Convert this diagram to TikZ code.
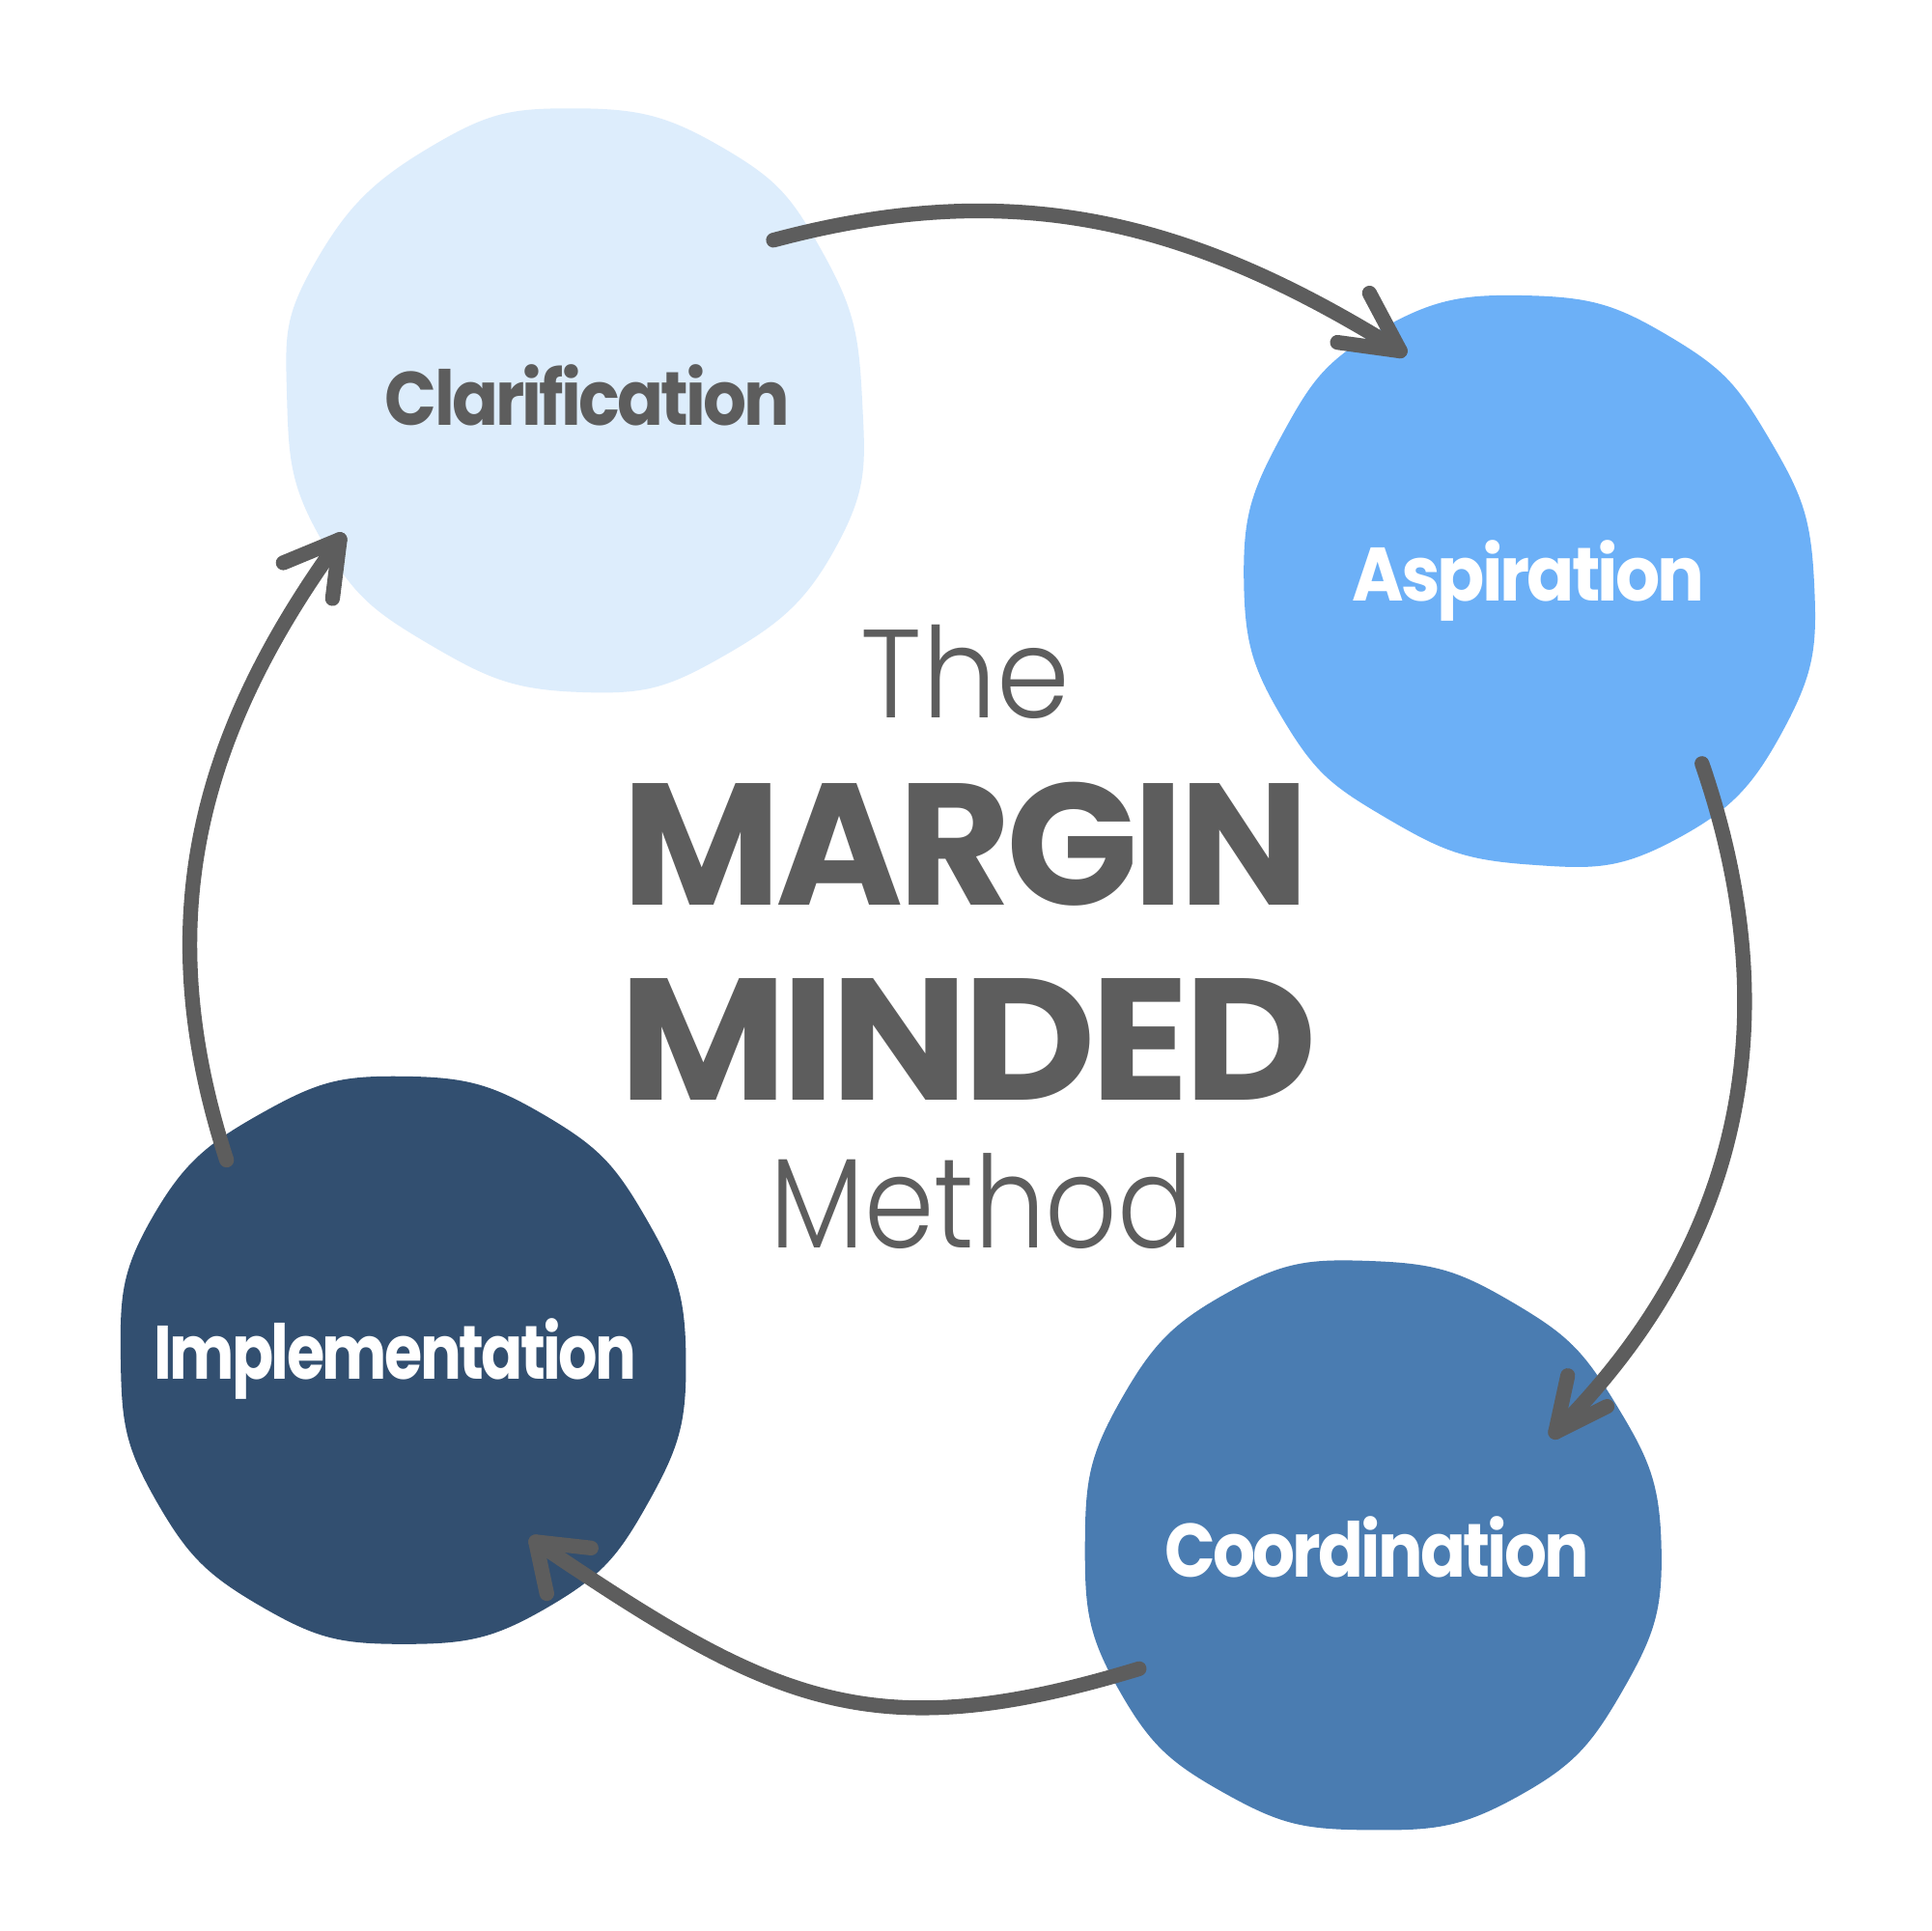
\documentclass[tikz,border=0pt]{standalone}
\usepackage{fontspec}
\setmainfont{Poppins}
\newfontfamily\poplight{Poppins Light}
\definecolor{clar}{HTML}{DDEDFC}
\definecolor{asp}{HTML}{6CB0F7}
\definecolor{coord}{HTML}{4A7CB1}
\definecolor{impl}{HTML}{324F70}
\definecolor{ink}{HTML}{5D5D5D}
\tikzset{
  lbl/.style={font=\bfseries\fontsize{17.5}{20}\selectfont\addfontfeatures{LetterSpace=-4}, inner sep=0pt, anchor=base},
  title/.style={inner sep=0pt, anchor=base, text=ink},
  arrowline/.style={draw=ink, line width=0.12cm, line cap=round, line join=round},
  blobshape/.style={smooth cycle, tension=0.8},
}
\begin{document}
\begin{tikzpicture}[x=0.01cm,y=-0.01cm]
\fill[white] (0,0) rectangle (1568,1568);
\useasboundingbox (0,0) rectangle (1568,1568);

% blobs
\fill[clar] plot[blobshape] coordinates {
 (700,323) (680,442) (587,533) (470,562) (350,524) (262,440) (233,323) (256,213)
 (350,119) (467,88) (587,120) (668,205)};
\fill[asp] plot[blobshape] coordinates {
 (1473,471) (1449,591) (1360,682) (1241,702) (1127,665) (1043,586) (1010,471) (1040,355)
 (1120,268) (1241,240) (1357,274) (1437,357)};
\fill[coord] plot[blobshape] coordinates {
 (1349,1255) (1318,1372) (1232,1459) (1112,1486) (996,1457) (909,1373) (881,1255)
 (910,1137) (998,1049) (1115,1024) (1229,1058) (1312,1140)};
\fill[impl] plot[blobshape] coordinates {
 (557,1104) (527,1219) (445,1305) (328,1335) (213,1305) (127,1219) (98,1104) (124,988)
 (214,903) (328,874) (443,906) (525,990)};

% labels
\node[lbl, text=ink] (clarification) at (477,345) {\scalebox{0.9}[1]{Clarification}};
\node[lbl, text=white] (aspiration) at (1241,488) {\scalebox{0.925}[1]{Aspiration}};
\node[lbl, text=white] (coordination) at (1118,1281) {\scalebox{0.88}[1]{Coordination}};
\node[lbl, text=white] (implementation) at (321,1120) {\scalebox{0.81}[1]{Implementation}};

% title
\node[title, font=\poplight\fontsize{29}{30}\selectfont] (the) at (784,583) {\scalebox{0.936}[1]{The}};
\node[title, font=\bfseries\fontsize{40}{40}\selectfont\addfontfeatures{LetterSpace=-3}] (margin) at (784,735) {MARGIN};
\node[title, font=\bfseries\fontsize{40}{40}\selectfont\addfontfeatures{LetterSpace=-3}] (minded) at (786,893) {\scalebox{1.057}[1]{MINDED}};
\node[title, font=\poplight\fontsize{29.5}{30}\selectfont] (method) at (797,1013) {\scalebox{0.88}[1]{Method}};

% arrow coordinates
\coordinate (a1s) at (628,195);
\coordinate (a1t) at (1137,285);
\coordinate (a1p) at (1112,238);
\coordinate (a1q) at (1086,278);
\coordinate (a2s) at (1382,620);
\coordinate (a2t) at (1263,1163);
\coordinate (a2p) at (1273,1117);
\coordinate (a2q) at (1305,1142);
\coordinate (a3s) at (925,1355);
\coordinate (a3t) at (435,1252);
\coordinate (a3p) at (480,1257);
\coordinate (a3q) at (444,1294);
\coordinate (a4s) at (184,942);
\coordinate (a4t) at (276,438);
\coordinate (a4p) at (230,457);
\coordinate (a4q) at (270,486);

\draw[arrowline] (a1s) to[out=15, in=148] (a1t);
\draw[arrowline] (a1p) -- (a1t) -- (a1q);
\draw[arrowline] (a2s) to[out=-71, in=45] (a2t);
\draw[arrowline] (a2p) -- (a2t) -- (a2q);
\draw[arrowline] (a3s) .. controls (705,1422) and (626,1381) .. (a3t);
\draw[arrowline] (a3p) -- (a3t) -- (a3q);
\draw[arrowline] (a4s) to[out=108, in=-126] (a4t);
\draw[arrowline] (a4p) -- (a4t) -- (a4q);
\end{tikzpicture}
\end{document}
